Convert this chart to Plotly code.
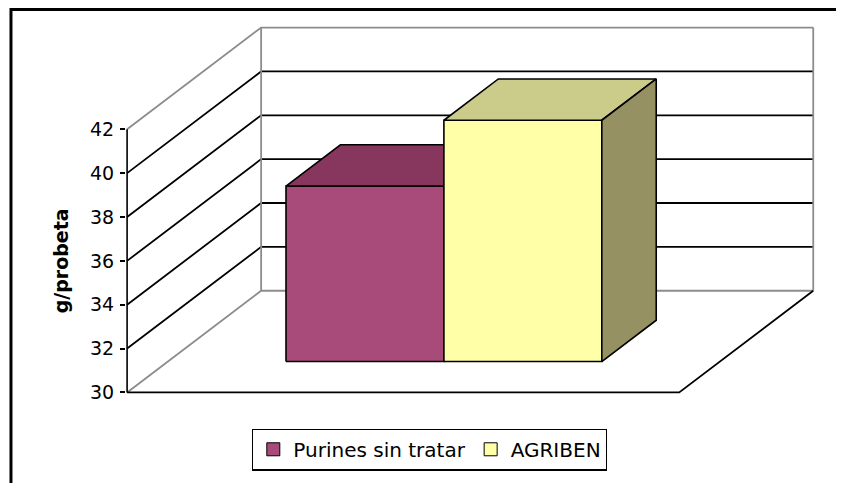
import plotly.graph_objects as go

# ---------------- data ----------------
categories = ["Purines sin tratar", "AGRIBEN"]
values = [38, 41]
y_ticks = [30, 32, 34, 36, 38, 40, 42]
y_title = "g/probeta"

# ---------------- style ----------------
front_colors = ["#A94B7A", "#FFFFA8"]
top_colors = ["#87365E", "#CBCB8A"]
side_colors = ["#6E2B4C", "#969162"]
GRID = "black"
EDGE = "#8C8C8C"
FONT = "DejaVu Sans"

Y0, Y1 = y_ticks[0], y_ticks[-1]
DX = 0.4855      # oblique depth offset, x units
DY = 4.636       # oblique depth offset, value units
FLOOR_W = 2.0    # one category spanning [0, 2]
BAR_W = 0.572
Z0, Z1 = 0.304, 0.71   # bar depth span (fraction of floor depth)


def P(x, v, z):
    return x + z * DX, v + z * DY


def seg(points, color, width):
    xs = [p[0] for p in points]
    ys = [p[1] for p in points]
    return go.Scatter(x=xs, y=ys, mode="lines", line=dict(color=color, width=width),
                      hoverinfo="skip", showlegend=False)


def poly(points, fill):
    pts = points + [points[0]]
    return go.Scatter(x=[p[0] for p in pts], y=[p[1] for p in pts], mode="lines",
                      fill="toself", fillcolor=fill,
                      line=dict(color="black", width=1.6), hoverinfo="skip",
                      showlegend=False)


fig = go.Figure()

# walls and gridlines
for t in y_ticks:
    col = EDGE if t in (Y0, Y1) else GRID
    fig.add_trace(seg([P(0, t, 0), P(0, t, 1), P(FLOOR_W, t, 1)], col, 1.8))
# back wall vertical edges
fig.add_trace(seg([P(0, Y0, 1), P(0, Y1, 1)], EDGE, 1.8))
fig.add_trace(seg([P(FLOOR_W, Y0, 1), P(FLOOR_W, Y1, 1)], EDGE, 1.8))
# floor front and right edges
fig.add_trace(seg([P(0, Y0, 0), P(FLOOR_W, Y0, 0), P(FLOOR_W, Y0, 1)], "black", 1.8))
# front value axis
fig.add_trace(seg([P(0, Y0, 0), P(0, Y1, 0)], "black", 1.6))

# bars
n = len(values)
left0 = FLOOR_W / 2 - n * BAR_W / 2
for i, v in enumerate(values):
    x0 = left0 + i * BAR_W
    x1 = x0 + BAR_W
    fig.add_trace(poly([P(x0, Y0, Z0), P(x1, Y0, Z0), P(x1, v, Z0), P(x0, v, Z0)], front_colors[i]))
    fig.add_trace(poly([P(x0, v, Z0), P(x1, v, Z0), P(x1, v, Z1), P(x0, v, Z1)], top_colors[i]))
    fig.add_trace(poly([P(x1, Y0, Z0), P(x1, v, Z0), P(x1, v, Z1), P(x1, Y0, Z1)], side_colors[i]))

# legend entries
for i, name in enumerate(categories):
    fig.add_trace(go.Scatter(x=[None], y=[None], mode="markers", name=name,
                             marker=dict(symbol="square", size=13, color=front_colors[i],
                                         line=dict(color="black", width=1))))

fig.add_annotation(text="<b>%s</b>" % y_title, textangle=-90, xref="paper", yref="y",
                   x=-0.095, y=(Y0 + Y1) / 2, showarrow=False, xanchor="center",
                   yanchor="middle", font=dict(family=FONT, size=19, color="black"))

# outer chart border
fig.add_shape(type="rect", xref="paper", yref="paper", x0=-0.1667, x1=1.2, y0=-0.4, y1=1.0445,
              line=dict(color="black", width=3), fillcolor="rgba(0,0,0,0)")

fig.update_layout(
    width=836, height=475,
    margin=dict(l=118, r=28, t=18, b=86),
    paper_bgcolor="white", plot_bgcolor="white",
    font=dict(family=FONT, size=18, color="black"),
    xaxis=dict(range=[-0.004, FLOOR_W + DX + 0.01], visible=False, fixedrange=True),
    yaxis=dict(range=[Y0 - 0.07, Y1 + DY + 0.07], tickvals=y_ticks, ticks="outside",
               ticklen=5, tickwidth=1.5, tickcolor="black", showgrid=False,
               zeroline=False, showline=False, ticklabelstandoff=2,
               tickfont=dict(family=FONT, size=19, color="black")),
    showlegend=True,
    legend=dict(orientation="h", x=0.44, xanchor="center", y=-0.094, yanchor="top",
                bordercolor="black", borderwidth=1.2, bgcolor="white",
                font=dict(family=FONT, size=20, color="black"), itemwidth=30,
                tracegroupgap=0),
)

fig.write_html("out.html")
